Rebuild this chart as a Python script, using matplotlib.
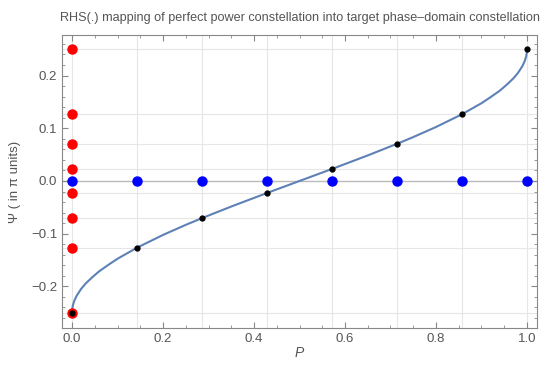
import matplotlib.pyplot as plt
from matplotlib.ticker import MultipleLocator

plt.rcParams["font.family"] = ["Liberation Sans", "DejaVu Sans"]

# Constellation points (P in units of 1/7, Psi in pi units)
P_points = [0.0, 0.1429, 0.2857, 0.4286, 0.5714, 0.7143, 0.8571, 1.0]
psi_points = [-0.25, -0.1266, -0.0705, -0.0228, 0.0228, 0.0705, 0.1266, 0.25]

# Mapping curve
P_curve = [0.0, 0.0005, 0.002, 0.005, 0.01, 0.02, 0.03, 0.045, 0.06, 0.08, 0.1,
           0.1429, 0.2, 0.25, 0.2857, 0.35, 0.4286, 0.5, 0.5714, 0.65, 0.7143,
           0.75, 0.8, 0.8571, 0.9, 0.92, 0.94, 0.955, 0.97, 0.98, 0.99, 0.995,
           0.998, 0.9995, 1.0]
psi_curve = [-0.25, -0.2429, -0.2358, -0.2275, -0.2181, -0.2048, -0.1946, -0.1823,
             -0.1712, -0.1591, -0.1476, -0.1266, -0.1024, -0.0833, -0.0705,
             -0.0485, -0.0228, 0.0, 0.0228, 0.0485, 0.0705, 0.0833, 0.1024,
             0.1266, 0.1476, 0.1591, 0.1712, 0.1823, 0.1946, 0.2048, 0.2181,
             0.2275, 0.2358, 0.2429, 0.25]

GRAY = "#555555"

fig = plt.figure(figsize=(5.5, 3.73), dpi=100)
ax = fig.add_axes([62 / 550, 1 - 328 / 373, 475 / 550, 293 / 373])

# grid lines at constellation positions
for p in P_points:
    ax.axvline(p, color="#e6e6e6", lw=0.8, zorder=0)
for s in psi_points:
    ax.axhline(s, color="#e6e6e6", lw=0.8, zorder=0)
ax.axhline(0, color="#bbbbbb", lw=1.0, zorder=1)

ax.plot(P_curve, psi_curve, color="#5E81B5", lw=1.5, zorder=2)

# source constellation: red on the Psi axis, blue on the P axis
ax.plot([0] * len(psi_points), psi_points, "o", color="#ff0000", ms=6.5, zorder=3)
ax.plot(P_points, [0] * len(P_points), "o", color="#0000ff", ms=6.5, zorder=4)
ax.plot(P_points, psi_points, "o", color="black", ms=3.5, zorder=5)

ax.set_xlim(-0.022, 1.022)
ax.set_ylim(-0.279, 0.277)
ax.xaxis.set_major_locator(MultipleLocator(0.2))
ax.xaxis.set_minor_locator(MultipleLocator(0.05))
ax.yaxis.set_major_locator(MultipleLocator(0.1))
ax.yaxis.set_minor_locator(MultipleLocator(0.02))
ax.tick_params(which="both", direction="in", top=True, right=True, colors="#888888",
               labelcolor=GRAY, labelsize=9.5)
ax.tick_params(which="major", length=4)
ax.tick_params(which="minor", length=2)
for sp in ax.spines.values():
    sp.set_color("#888888")

ax.set_xlabel("P", color=GRAY, fontsize=10, style="italic", labelpad=1)
ax.set_ylabel("Ψ ( in π units)", color=GRAY, fontsize=9.5, labelpad=7)
ax.set_title("RHS(.) mapping of perfect power constellation into target phase\u2013domain constellation",
             color=GRAY, fontsize=9.1, pad=10)

fig.savefig("out.png", dpi=100)
